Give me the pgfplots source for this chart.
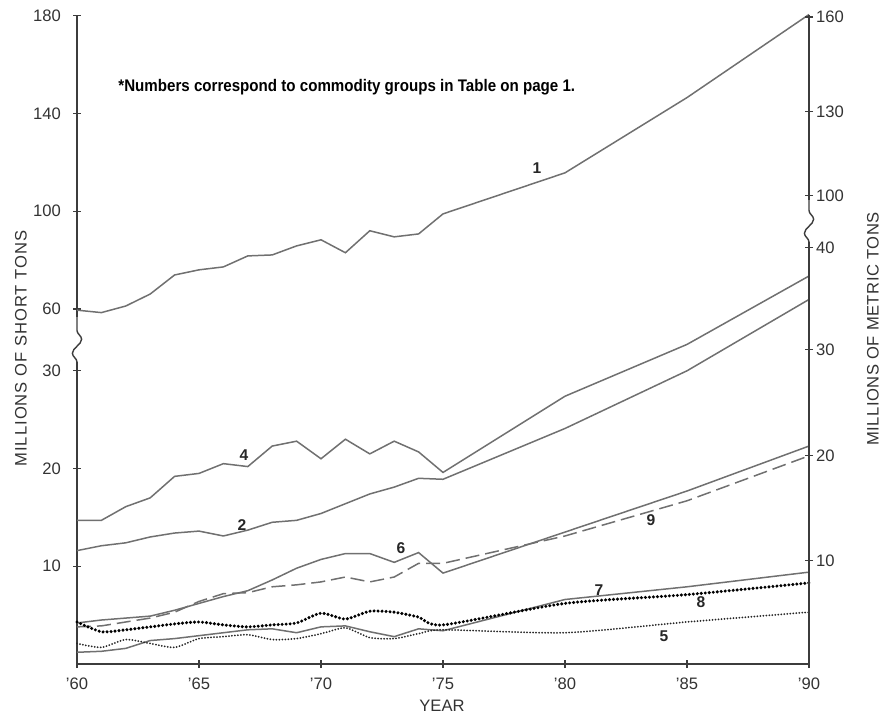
\documentclass[border=0pt]{standalone}
\usepackage{fontspec}
\setmainfont{Liberation Sans}
\newfontfamily\notefont[FakeStretch=0.9]{Liberation Sans}
\usepackage{pgfplots}
\usepackage{pgfplotstable}
\pgfplotsset{compat=1.18}
\usetikzlibrary{decorations.pathmorphing}

\definecolor{linegray}{RGB}{112,112,112}
\definecolor{axgray}{RGB}{60,60,60}

% values in millions of short tons
\pgfplotstableread{
year s1 s2 s4 s6 s9 s7 s8 s5
1960 59.5 11.6 14.7 4.2 3.8 1.2 4.3 2.1
1961 58.5 12.1 14.7 4.5 3.9 1.3 3.3 1.7
1962 61.2 12.4 16.1 4.7 4.3 1.6 3.5 2.5
1963 66.1 13.0 17.0 4.9 4.7 2.4 3.8 2.1
1964 73.9 13.4 19.2 5.5 5.3 2.6 4.1 1.7
1965 76.0 13.6 19.5 6.2 6.4 2.9 4.3 2.6
1966 77.2 13.1 20.5 6.9 7.2 3.2 4.0 2.8
1967 81.7 13.7 20.2 7.5 7.3 3.5 3.8 3.0
1968 82.1 14.5 22.3 8.6 7.9 3.6 4.0 2.5
1969 85.8 14.7 22.8 9.8 8.1 3.2 4.2 2.6
1970 88.3 15.4 21.0 10.7 8.4 3.8 5.2 3.1
1971 83.0 16.4 23.0 11.3 8.9 3.9 4.6 3.7
1972 92.0 17.4 21.5 11.3 8.4 3.3 5.4 2.7
1973 89.5 18.1 22.8 10.4 8.9 2.8 5.3 2.6
1974 90.7 19.0 21.7 11.4 10.3 3.6 4.8 3.1
1975 98.9 18.9 19.6 9.3 10.3 3.4 4.0 3.5
1980 115.7 24.1 27.4 13.5 13.1 6.6 6.2 3.2
1985 146.5 30.0 32.7 17.7 16.7 7.9 7.1 4.3
1990 180.5 37.3 39.7 22.3 21.3 9.4 8.3 5.3
}\data

\begin{document}
\begin{tikzpicture}
\useasboundingbox (-38.5pt,-26.5pt) rectangle (404.5pt,332pt);
\begin{axis}[
  at={(0,0)}, anchor=south west,
  scale only axis, width=366pt, height=324.5pt,
  xmin=1960, xmax=1990,
  ymin=0, ymax=180.3,
  y coord trafo/.code={\pgfmathparse{(#1>45)?(36.33+(#1-60)/4):(#1)}},
  axis x line*=bottom, axis y line*=left,
  axis line style={axgray, line width=0.7pt, -},
  xtick={1960,1965,1970,1975,1980,1985,1990},
  xticklabels={'60,'65,'70,'75,'80,'85,'90},
  ytick={10,20,30,60,100,140,180},
  yticklabels={10,20,30,60,100,140,180},
  tick align=center, major tick length=4pt,
  tick style={axgray, line width=0.6pt},
  tick label style={font=\fontsize{8.3}{10}\selectfont, text=black!80},
  /pgf/number format/assume math mode=true,
  yticklabel style={xshift=-2.5pt},
  xticklabel style={yshift=-1.5pt},
  clip=false,
]
\addplot[linegray, line width=0.75pt] table[x=year,y=s1] {\data};
\addplot[linegray, line width=0.75pt] table[x=year,y=s2] {\data};
\addplot[linegray, line width=0.75pt] table[x=year,y=s4] {\data};
\addplot[linegray, line width=0.75pt] table[x=year,y=s6] {\data};
\addplot[linegray, line width=0.75pt, dash pattern=on 7pt off 3pt] table[x=year,y=s9] {\data};
\addplot[linegray, line width=0.75pt] table[x=year,y=s7] {\data};
\addplot[black, line width=1.7pt, line cap=round, dash pattern=on 0pt off 2pt, smooth, tension=0.4] table[x=year,y=s8] {\data};
\addplot[black!85, line width=1.0pt, line cap=round, dash pattern=on 0pt off 1.5pt, smooth, tension=0.4] table[x=year,y=s5] {\data};
\end{axis}
\begin{axis}[
  at={(0,0)}, anchor=south west,
  scale only axis, width=366pt, height=324.5pt,
  xmin=1960, xmax=1990, ymin=0, ymax=66.405,
  axis x line=none, axis y line*=right,
  axis line style={axgray, line width=0.7pt, -},
  ytick={10.6,21.3,32.2,42.6,47.9,56.5,66.2},
  yticklabels={10,20,30,40,100,130,160},
  tick align=center, major tick length=4pt,
  tick style={axgray, line width=0.6pt},
  tick label style={font=\fontsize{8.3}{10}\selectfont, text=black!80},
  yticklabel style={xshift=-2pt},
]
\end{axis}
% axis breaks
\draw[white, line width=4pt] (0,151pt) -- (0,173.5pt);
\draw[axgray, line width=0.7pt, decorate, decoration={snake, amplitude=2.3pt, segment length=14pt}] (0,151pt) -- (0,173.5pt);
\draw[white, line width=4pt] (366pt,211pt) -- (366pt,232pt);
\draw[axgray, line width=0.7pt, decorate, decoration={snake, amplitude=2.3pt, segment length=14pt}] (366pt,211pt) -- (366pt,232pt);
% labels
\node[rotate=90, font=\fontsize{8.3}{10}\selectfont, text=black!80] at (-28pt,157.75pt) {\addfontfeature{LetterSpace=6}MILLIONS OF SHORT TONS};
\node[rotate=90, font=\fontsize{8.3}{10}\selectfont, text=black!80] at (398pt,167.5pt) {\addfontfeature{LetterSpace=3}MILLIONS OF METRIC TONS};
\node[font=\fontsize{8.3}{10}\selectfont, text=black!80] at (182.5pt,-21pt) {YEAR};
\node[anchor=west, inner sep=0pt, font=\notefont\bfseries\fontsize{8.4}{10}\selectfont] at (20.5pt,288.5pt) {*Numbers correspond to commodity groups in Table on page 1.};
\begin{scope}[every node/.style={font=\bfseries\fontsize{7.8}{9}\selectfont, text=black!85}]
\node at (230pt,248pt) {1};
\node at (83.5pt,104.5pt) {4};
\node at (82.5pt,69.5pt) {2};
\node at (162pt,58pt) {6};
\node at (287pt,72pt) {9};
\node at (261pt,37pt) {7};
\node at (312pt,31pt) {8};
\node at (293.5pt,14pt) {5};
\end{scope}
\end{tikzpicture}
\end{document}
